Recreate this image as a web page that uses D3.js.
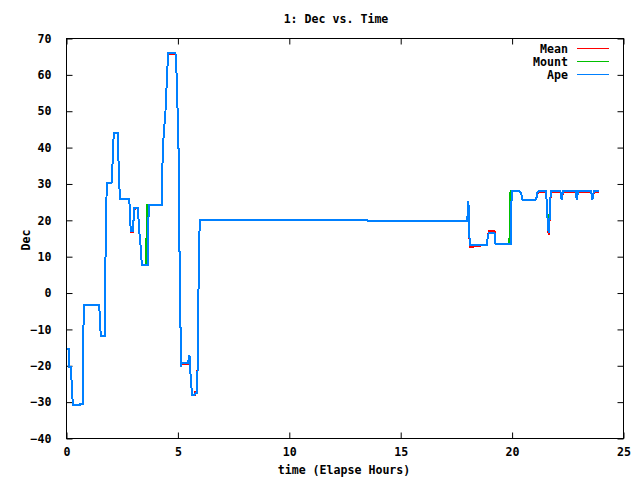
<!DOCTYPE html>
<html><head><meta charset="utf-8">
<script src="https://cdn.jsdelivr.net/npm/d3@7"></script>
<style>
html,body{margin:0;padding:0;background:#fff;}
text{font-family:"DejaVu Sans Mono","Liberation Mono",monospace;font-weight:bold;font-size:11.6px;fill:#000;}
</style></head><body>
<script>
const title = "1: Dec vs. Time";
const xLabel = "time (Elapse Hours)";
const yLabel = "Dec";
const seriesNames = ["Mean", "Mount", "Ape"];
const seriesColors = ["#ff0000", "#00c000", "#0080ff"];
const xTicks = [0, 5, 10, 15, 20, 25];
const yTicks = [-40, -30, -20, -10, 0, 10, 20, 30, 40, 50, 60, 70];

const time = [0,0.1,0.11,0.2,0.22,0.25,0.3,0.6,0.62,0.73,0.74,0.78,1.45,1.5,1.52,1.54,1.72,1.73,1.77,1.81,
2.02,2.05,2.1,2.12,2.29,2.32,2.36,2.41,2.81,2.84,2.86,2.89,2.98,3.0,3.02,3.05,3.2,3.22,3.25,3.29,
3.34,3.38,3.56,3.58,3.6,3.63,3.65,3.67,3.69,4.28,4.29,4.32,4.37,4.44,4.52,4.56,4.89,4.92,4.95,5.03,
5.09,5.15,5.16,5.44,5.47,5.52,5.54,5.6,5.64,5.76,5.78,5.87,5.89,5.94,5.98,13.5,13.52,17.98,18.0,18.01,
18.04,18.07,18.12,18.3,18.86,18.89,18.91,18.96,19.21,19.23,19.26,19.88,19.9,19.93,19.95,19.97,20.0,20.33,20.4,20.47,
21.05,21.1,21.13,21.2,21.53,21.55,21.6,21.64,21.66,21.71,21.75,22.17,22.2,22.23,22.28,22.85,22.88,22.9,22.96,23.55,
23.58,23.6,23.67,23.9];

const ape = [-15.3,-15.3,-20.3,-20.3,-23,-28,-30.7,-30.7,-30.4,-30.4,-17,-3.4,-3.4,-5.7,-9.8,-11.7,-11.7,-1.2,19.5,30.2,
30.2,33.4,40.6,44.1,44.1,39.4,30.5,25.9,25.9,23.4,19.5,17.2,17.2,18.8,21.6,23.4,23.4,21.6,18.8,14.9,
12.2,7.8,7.8,7.8,7.8,7.8,7.8,17.2,24.3,24.3,29.3,39.2,44.1,49.6,60.6,66,66,62.6,58.9,39.2,
-0.2,-20.2,-19.3,-19.3,-18.6,-17.2,-20,-25.4,-27.9,-27.9,-27.6,-27.6,-15.6,8,20,20,19.8,19.8,21.3,23.8,
25.4,16.3,13.3,13.3,13.3,14.4,15.8,16.6,16.6,14.8,13.4,13.4,13.4,13.4,20,25,28,28,27.5,25.6,
25.6,26.3,27.5,28,28,25.2,19.5,16.7,16.7,25.5,28,28,26.6,25.6,28,28,26.6,25.6,28,28,
26.6,25.6,28,28];

const mean = [-15.3,-15.3,-20.3,-20.3,-23,-28,-30.7,-30.7,-30.4,-30.4,-17,-3.4,-3.4,-5.7,-9.8,-11.7,-11.7,-1.2,19.5,30.2,
30.2,33.4,40.6,44.1,44.1,39.4,30.5,25.9,25.9,23.4,19.5,16.8,16.8,18.8,21.6,23.1,23.4,21.6,18.8,14.9,
12.2,7.8,7.8,7.8,7.8,7.8,7.8,17.2,24.3,24.3,29.3,39.2,44.1,49.6,60.6,65.7,65.7,62.6,58.9,39.2,
-0.2,-20.2,-19.6,-19.6,-18.6,-17.2,-20,-25.4,-27.9,-27.9,-27.3,-27.3,-15.6,8,20,20,19.7,19.7,21.3,23.8,
25.4,16.3,12.8,12.8,13.3,14.4,15.8,17.0,17.0,14.8,13.4,13.4,13.4,13.4,20,25,28,28,27.5,25.6,
25.6,26.3,27.5,27.7,27.7,25.2,19.5,16.2,16.2,25.5,27.7,27.7,26.6,25.6,27.7,27.7,26.6,25.6,27.7,27.7,
26.6,25.6,27.7,27.7];

const mount = [-15.3,-15.3,-20.3,-20.3,-23,-28,-30.7,-30.7,-30.4,-30.4,-17,-3.4,-3.4,-5.7,-9.8,-11.7,-11.7,-1.2,19.5,30.2,
30.2,33.4,40.6,44.1,44.1,39.4,30.5,25.9,25.9,23.4,19.5,17.2,17.2,18.8,21.6,23.4,23.4,21.6,18.8,14.9,
12.2,7.8,7.8,12.2,17.2,24.3,24.3,24.3,24.3,24.3,29.3,39.2,44.1,49.6,60.6,66,66,62.6,58.9,39.2,
-0.2,-20.2,-19.3,-19.3,-18.6,-17.2,-20,-25.4,-27.9,-27.9,-27.6,-27.6,-15.6,8,20,20,19.8,19.8,21.3,23.8,
25.4,16.3,13.3,13.3,13.3,14.4,15.8,16.6,16.6,14.8,13.4,13.4,22,28,28,28,28,28,27.5,25.6,
25.6,26.3,27.5,28,28,25.2,19.5,19.5,19.5,25.5,28,28,26.6,25.6,28,28,26.6,25.6,28,28,
26.6,25.6,28,28];

const W = 640, H = 480;
const m = {left: 66.5, right: 623.5, top: 38.5, bottom: 438.5};
const svg = d3.select("body").append("svg").attr("width", W).attr("height", H);
const x = d3.scaleLinear().domain([0, 25]).range([m.left, m.right]);
const y = d3.scaleLinear().domain([-40, 70]).range([m.bottom, m.top]);
const tickLen = 6;

const axB = d3.axisBottom(x).tickValues(xTicks).tickSize(-tickLen).tickPadding(9).tickFormat(d3.format("d"));
const axT = d3.axisTop(x).tickValues(xTicks).tickSize(-tickLen).tickFormat("");
const axL = d3.axisLeft(y).tickValues(yTicks).tickSize(-tickLen).tickPadding(15).tickFormat(d3.format("d"));
const axR = d3.axisRight(y).tickValues(yTicks).tickSize(-tickLen).tickFormat("");
function styleAxis(g){ g.select(".domain").remove(); g.selectAll("line").attr("stroke","#000"); g.selectAll("text").attr("fill","#000"); }
svg.append("g").attr("transform",`translate(0,${m.bottom})`).call(axB).call(styleAxis)
  .selectAll("text").attr("dy","0.71em");
svg.append("g").attr("transform",`translate(0,${m.top})`).call(axT).call(styleAxis);
svg.append("g").attr("transform",`translate(${m.left},0)`).call(axL).call(styleAxis);
svg.append("g").attr("transform",`translate(${m.right},0)`).call(axR).call(styleAxis);
svg.selectAll("g text").attr("font-family", null).attr("font-size", null);

const series = [mean, mount, ape];
const line = d3.line().x((d,i)=>x(time[i])).y(d=>y(d));
series.forEach((vals, k) => {
  svg.append("path").datum(vals).attr("d", line).attr("fill","none")
    .attr("stroke", seriesColors[k]).attr("stroke-width", 2).attr("stroke-linejoin","miter")
    .attr("shape-rendering","crispEdges");
});

svg.append("rect").attr("x", m.left).attr("y", m.top).attr("width", m.right-m.left).attr("height", m.bottom-m.top)
  .attr("fill","none").attr("stroke","#000").attr("stroke-width",1);

const legY = d3.scaleBand().domain(seriesNames).range([42, 81]);
const lg = svg.append("g");
seriesNames.forEach((n,k)=>{
  const cy = legY(n) + legY.bandwidth()/2;
  lg.append("text").attr("x", 568).attr("y", cy).attr("dy","0.35em").attr("text-anchor","end").text(n);
  lg.append("line").attr("x1",577).attr("x2",609).attr("y1",cy).attr("y2",cy)
    .attr("stroke",seriesColors[k]).attr("stroke-width",1.5).attr("shape-rendering","crispEdges");
});

svg.append("text").attr("x", 336).attr("y", 19).attr("dy","0.35em").attr("text-anchor","middle").text(title);
svg.append("text").attr("x", 344).attr("y", 470).attr("dy","0.35em").attr("text-anchor","middle").text(xLabel);
svg.append("text").attr("transform","translate(26,240) rotate(-90)").attr("dy","0.35em").attr("text-anchor","middle").text(yLabel);
</script>
</body></html>
